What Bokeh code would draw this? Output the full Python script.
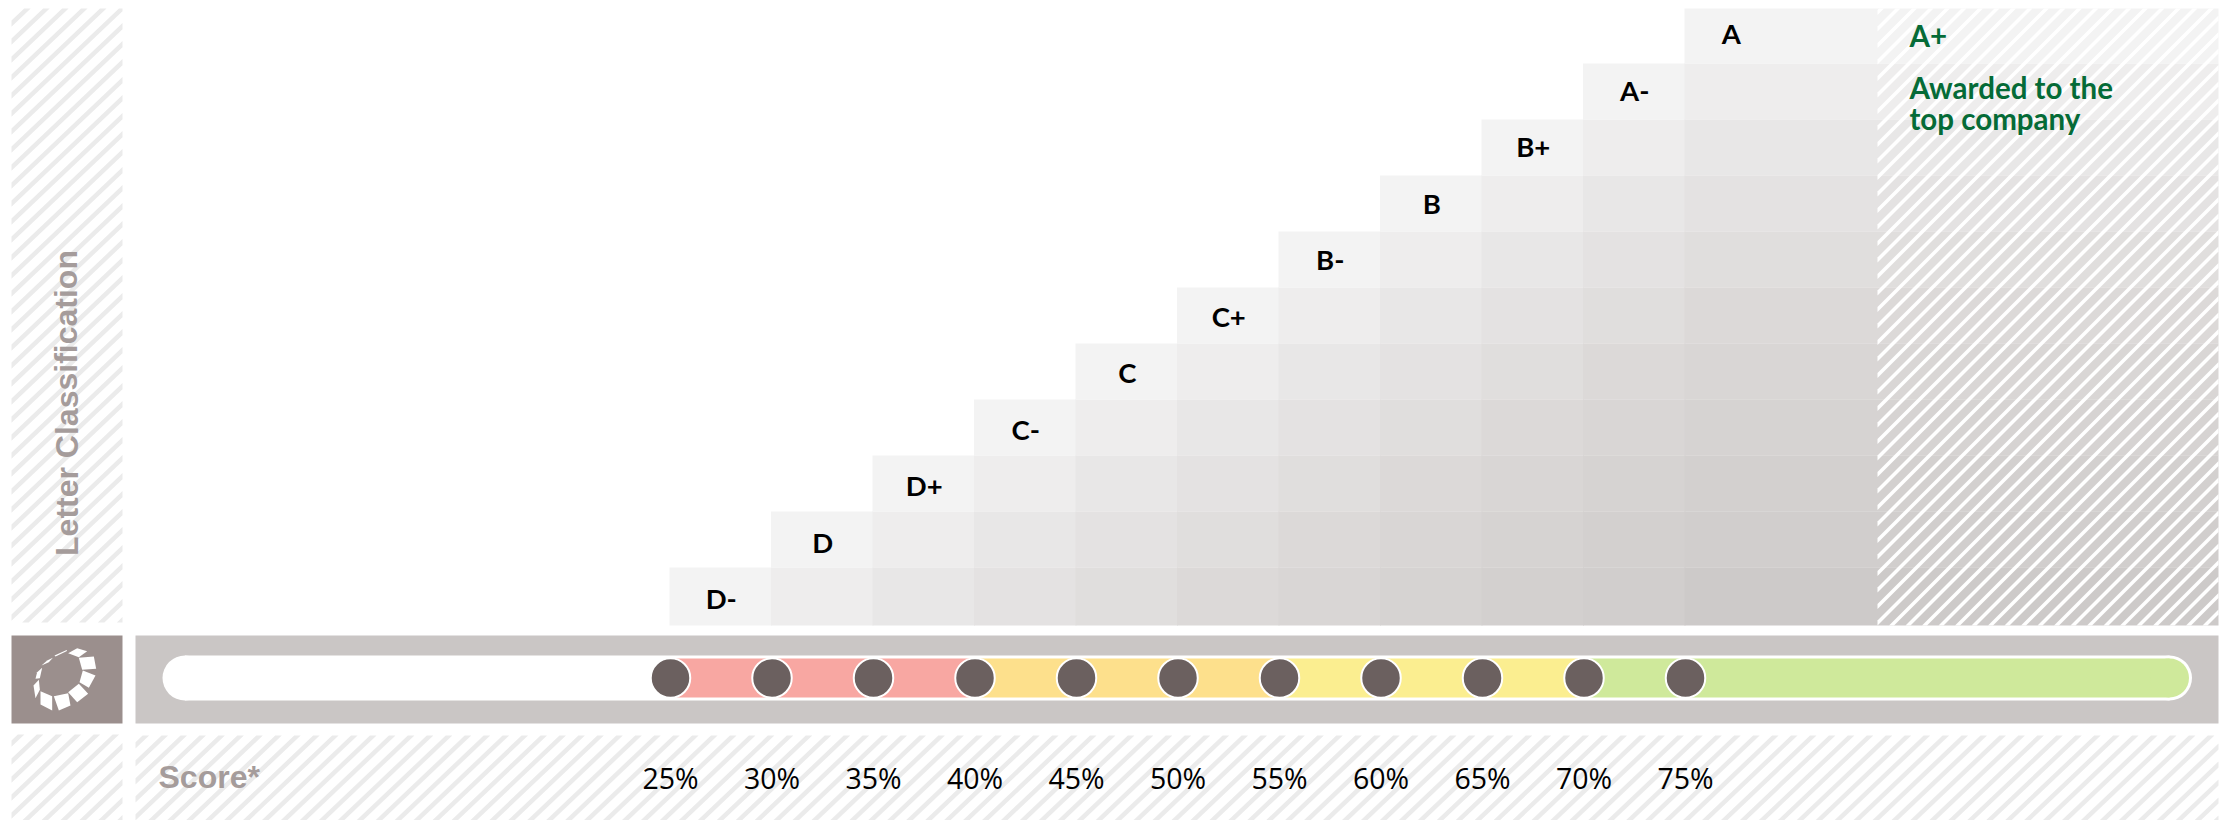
from bokeh.plotting import figure
from bokeh.models import Range1d, ColumnDataSource
from bokeh.core.properties import value
from bokeh.embed import file_html
from bokeh.resources import INLINE

# ---- chart content -------------------------------------------------------
scores = [25, 30, 35, 40, 45, 50, 55, 60, 65, 70, 75]
score_labels = ["25%", "30%", "35%", "40%", "45%", "50%", "55%", "60%", "65%", "70%", "75%"]
letters = ["D-", "D", "D+", "C-", "C", "C+", "B-", "B", "B+", "A-", "A"]
band_starts = [25, 40, 55, 70]
band_colors = ["#f8a7a2", "#fde08c", "#fbee90", "#cfe99b"]
depth_shades = ["#f3f3f3", "#eeeded", "#e8e7e7", "#e4e2e2", "#e0dedd", "#dcd9d8",
                "#d9d6d5", "#d6d3d2", "#d3d0cf", "#d1cecd", "#cdcac9"]
top_title = "A+"
top_note = ["Awarded to the", "top company"]

# ---- scales: px in the reference -> data ----------------------------------
PX_PER_SCORE = 20.3
PX_PER_ROW = 56.0
def sx(px): return 25 + (px - 670.0) / PX_PER_SCORE
def sy(py): return (623.0 - py) / PX_PER_ROW

p = figure(width=2234, height=820, output_backend="svg", toolbar_location=None,
           x_range=Range1d(sx(0), sx(2234)), y_range=Range1d(sy(820), sy(0)),
           min_border=0, background_fill_color="white", border_fill_color="white")
p.axis.visible = False
p.grid.visible = False
p.outline_line_color = None

# ---- stripes (clipped diagonal bands) ---------------------------------------
def clip(poly, inside, cross):
    out = []
    for i, a in enumerate(poly):
        b = poly[(i + 1) % len(poly)]
        if inside(a):
            out.append(a)
            if not inside(b):
                out.append(cross(a, b))
        elif inside(b):
            out.append(cross(a, b))
    return out

def clip_rect(poly, x0, y0, x1, y1):
    def cx(v):
        return lambda a, b: (v, a[1] + (b[1] - a[1]) * (v - a[0]) / (b[0] - a[0]))
    def cy(v):
        return lambda a, b: (a[0] + (b[0] - a[0]) * (v - a[1]) / (b[1] - a[1]), v)
    for inside, cross in ((lambda q: q[0] >= x0, cx(x0)), (lambda q: q[0] <= x1, cx(x1)),
                          (lambda q: q[1] >= y0, cy(y0)), (lambda q: q[1] <= y1, cy(y1))):
        if poly:
            poly = clip(poly, inside, cross)
    return poly

def stripes(x0, y0, x1, y1, period, width, phase, slope, color):
    xs, ys = [], []
    c = phase
    while c > slope * x0 + y0 - period:
        c -= period
    while c < slope * x0 + y0 - period:
        c += period
    far = 4000
    while c < slope * x1 + y1:
        poly = [(x0 - far, c - slope * (x0 - far)), (x1 + far, c - slope * (x1 + far)),
                (x1 + far, c + width - slope * (x1 + far)), (x0 - far, c + width - slope * (x0 - far))]
        poly = clip_rect(poly, x0, y0, x1, y1)
        if len(poly) >= 3:
            xs.append([sx(q[0]) for q in poly])
            ys.append([sy(q[1]) for q in poly])
        c += period
    p.patches(xs, ys, fill_color=color, line_color=None)

def box(x0, y0, x1, y1, color):
    p.quad(left=[sx(x0)], right=[sx(x1)], top=[sy(y0)], bottom=[sy(y1)], fill_color=color, line_color=None)

# ---- staircase --------------------------------------------------------------
RIGHT = 2218
left, right, top, bottom, fill = [], [], [], [], []
n = len(scores)
for c in range(n):
    for j in range(c + 1):
        left.append(scores[c] - 0.05)
        right.append(scores[c] + 5 if c < n - 1 else sx(RIGHT))
        top.append(j + 1 if j < n - 1 else sy(8))
        bottom.append(j - 0.006 if j > 0 else sy(625))
        fill.append(depth_shades[c - j])
p.quad(left=left, right=right, top=top, bottom=bottom, fill_color=fill, line_color=None)

stripes(1877, 8, RIGHT, 625, 16.5, 5, 1.0 * 1877 + 207.5, 1.0, "white")

# letters in the steps
letter_src = ColumnDataSource(dict(
    x=[s + 2.5 for s in scores[:-1]] + [scores[-1] + 2.25],
    y=[i + 0.5 for i in range(n)],
    t=letters,
    off=[(n - 1 - i) * 0.5 - 5 + 3 for i in range(n)],
))
p.text(x="x", y="y", text="t", source=letter_src, text_font=value("Lato"), text_font_style="bold",
       text_font_size="27.5px", text_color="black", text_align="center", text_baseline="middle",
       y_offset="off")

# right note
note_x = sx(1909)
p.text(x=[note_x], y=[sy(35)], text=[top_title], text_font=value("Lato"), text_font_style="bold",
       text_font_size="29.5px", text_color="#056b37", text_align="left", text_baseline="middle")
p.text(x=[note_x, note_x], y=[sy(87), sy(118)], text=top_note, text_font=value("Lato"), text_font_style="bold",
       text_font_size="29.5px", text_color="#056b37", text_align="left", text_baseline="middle")

# ---- left hatched column and title -------------------------------------------
stripes(11, 8, 122, 622, 18, 6.2, 30.5, 0.95, "#ebebeb")
p.text(x=[sx(66)], y=[sy(402.5)], text=["Letter Classification"], angle=1.5708,
       text_font=value("Liberation Sans"), text_font_style="bold", text_font_size="32px",
       text_color="#a59c9b", text_align="center", text_baseline="middle")

# ---- logo ------------------------------------------------------------------
box(11, 635, 122, 723, "#9b8f8d")
logo = [
    [(188, 68), (215, 53), (245, 62), (220, 80)],
    [(220, 82), (265, 78), (272, 115), (230, 118)],
    [(232, 120), (270, 135), (250, 172), (222, 155)],
    [(220, 160), (248, 190), (215, 215), (188, 185)],
    [(188, 188), (195, 225), (160, 240), (145, 197)],
    [(140, 197), (140, 240), (105, 222), (105, 182)],
    [(103, 178), (90, 203), (84, 165), (100, 148)],
    [(103, 143), (90, 145), (95, 125), (110, 112)],
    [(108, 105), (125, 90), (142, 82), (130, 95)],
    [(147, 75), (185, 58), (183, 62), (150, 78)],
]
p.patches([[sx(5 + q[0] / 3) for q in petal] for petal in logo],
          [[sy(630 + q[1] / 3) for q in petal] for petal in logo],
          fill_color="white", line_color=None)

# ---- track -----------------------------------------------------------------
box(135, 635, RIGHT, 723, "#cac6c5")
TRACK_MID = sy(677.5)
box(184.5, 655, 2169, 700, "white")
p.scatter(x=[sx(184.5), sx(2169)], y=[TRACK_MID, TRACK_MID], size=45, marker="circle",
          fill_color="white", line_color=None)
ends = band_starts[1:] + [sx(2169)]
p.quad(left=band_starts, right=ends, top=[sy(658)] * 4, bottom=[sy(697)] * 4,
       fill_color=band_colors, line_color=None)
p.scatter(x=[sx(2169)], y=[TRACK_MID], size=39, marker="circle", fill_color=band_colors[-1], line_color=None)
p.scatter(x=scores, y=[TRACK_MID] * n, size=39.5, marker="circle", fill_color="#6b605f",
          line_color="white", line_width=2)

# ---- score row ---------------------------------------------------------------
stripes(11, 734, 122, 820, 18, 6.2, 30.5, 0.95, "#ebebeb")
stripes(135, 735, RIGHT, 820, 18, 6.2, 870, 0.95, "#ebebeb")
p.text(x=[sx(158)], y=[sy(776)], text=["Score*"], text_font=value("Liberation Sans"), text_font_style="bold",
       text_font_size="32px", text_color="#a59c9b", text_align="left", text_baseline="middle")
p.text(x=scores, y=[sy(777)] * n, text=score_labels, text_font=value("Open Sans"), text_font_size="28.5px",
       text_color="black", text_align="center", text_baseline="middle")

open("out.html", "w").write(file_html(p, INLINE))
